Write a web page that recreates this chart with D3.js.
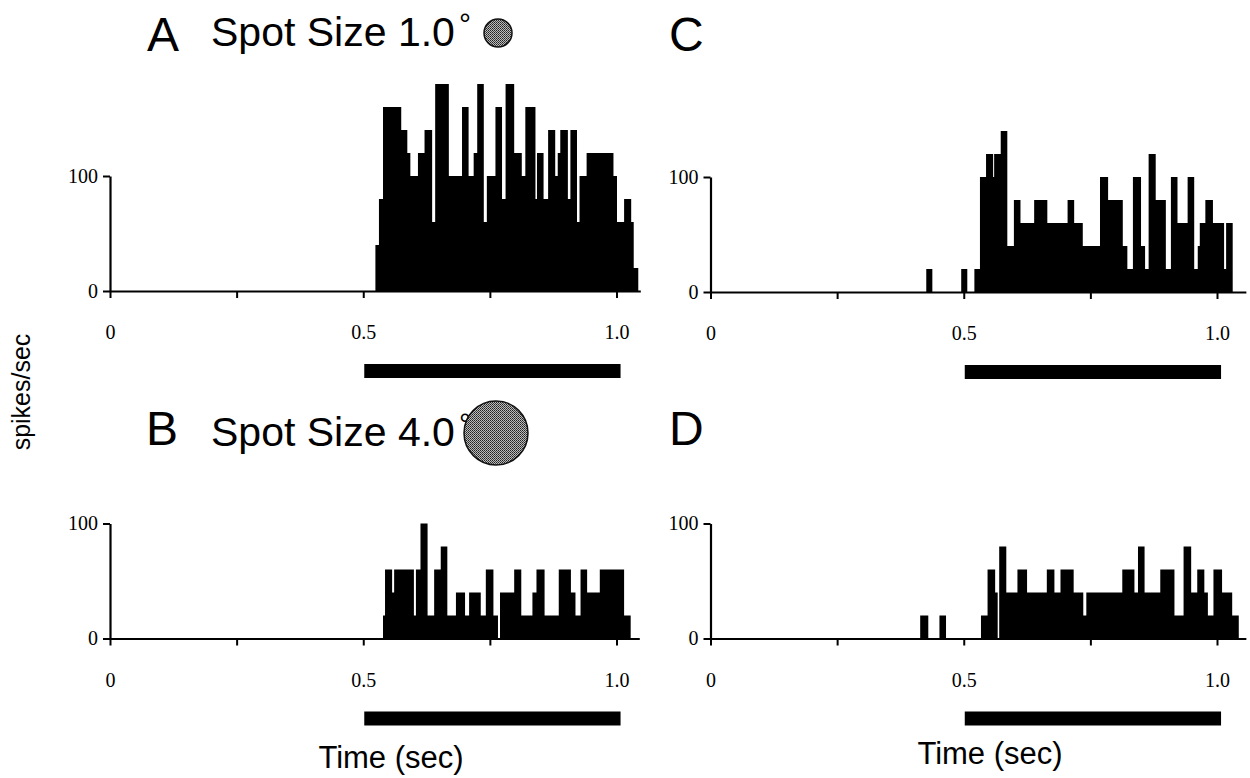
<!DOCTYPE html>
<html>
<head>
<meta charset="utf-8">
<script src="https://cdn.jsdelivr.net/npm/d3@7"></script>
<style>
	body { margin: 0; background: #fff; }
	svg { display: block; }
	.tick text { font-family: "Liberation Serif", "Times New Roman", serif; font-size: 20px; }
	.lbl { font-family: "Liberation Sans", Arial, sans-serif; fill: #000; }
</style>
</head>
<body>
<svg id="chart" width="1250" height="778"></svg>
<script>
// PSTH segments: bin edges (sec) and firing rate (spikes/sec) for each bin
const aEdges = [0.524, 0.531, 0.539, 0.575, 0.587, 0.593, 0.608, 0.621, 0.636, 0.642, 0.669, 0.695, 0.708, 0.718, 0.725, 0.738, 0.744, 0.761, 0.774, 0.781, 0.798, 0.813, 0.820, 0.840, 0.843, 0.856, 0.865, 0.879, 0.884, 0.889, 0.904, 0.909, 0.922, 0.927, 0.941, 0.994, 1.001, 1.015, 1.029, 1.034, 1.043];
const aRates = [40, 80, 160, 140, 120, 100, 120, 140, 60, 180, 100, 160, 100, 120, 180, 60, 100, 160, 80, 180, 120, 100, 160, 80, 120, 80, 140, 100, 120, 140, 80, 140, 60, 100, 120, 100, 60, 80, 60, 20];

const bEdges = [0.539, 0.543, 0.557, 0.561, 0.600, 0.604, 0.613, 0.627, 0.640, 0.653, 0.666, 0.683, 0.701, 0.709, 0.732, 0.742, 0.757, 0.766, 0.770, 0.798, 0.812, 0.834, 0.842, 0.858, 0.886, 0.910, 0.919, 0.929, 0.942, 0.967, 1.015, 1.028];
const bRates = [20, 60, 40, 60, 20, 60, 100, 20, 60, 80, 20, 40, 20, 40, 20, 60, 20, 0, 40, 60, 20, 40, 60, 20, 60, 40, 20, 60, 40, 60, 20];

const cEdges = [0.426, 0.438, 0.495, 0.507, 0.521, 0.532, 0.544, 0.558, 0.560, 0.573, 0.586, 0.599, 0.612, 0.639, 0.665, 0.705, 0.718, 0.735, 0.769, 0.785, 0.814, 0.823, 0.834, 0.850, 0.858, 0.865, 0.879, 0.899, 0.909, 0.922, 0.942, 0.955, 0.962, 0.966, 0.977, 0.992, 1.014, 1.018, 1.031];
const cRates = [20, 0, 20, 0, 20, 100, 120, 100, 120, 140, 40, 80, 60, 80, 60, 80, 60, 40, 100, 80, 40, 20, 100, 40, 20, 120, 80, 20, 100, 60, 100, 20, 40, 60, 80, 60, 20, 60];

const dEdges = [0.414, 0.430, 0.452, 0.465, 0.534, 0.547, 0.562, 0.567, 0.570, 0.584, 0.606, 0.625, 0.664, 0.679, 0.691, 0.717, 0.736, 0.742, 0.813, 0.837, 0.844, 0.857, 0.888, 0.916, 0.934, 0.949, 0.961, 0.975, 0.982, 0.993, 1.010, 1.030, 1.043];
const dRates = [20, 0, 20, 0, 20, 60, 40, 0, 80, 40, 60, 40, 60, 40, 60, 40, 20, 40, 60, 40, 80, 40, 60, 20, 80, 40, 60, 40, 20, 60, 40, 20];

// stimulus on/off (sec), axis ticks
const stimulus = [0.502, 1.008];
const xTicks = [0, 0.25, 0.5, 0.75, 1.0];
const xTickLabels = ["0", "", "0.5", "", "1.0"];
const yTicks = [0, 100];
const spotSizes = ["1.0", "4.0"];

const svg = d3.select("#chart");

let defs = svg.append("defs");
let pat = defs.append("pattern")
	.attr("id", "stipple")
	.attr("width", 2).attr("height", 2)
	.attr("patternUnits", "userSpaceOnUse");
pat.append("rect").attr("width", 2).attr("height", 2).attr("fill", "#bbb");
pat.append("rect").attr("width", 1).attr("height", 1).attr("fill", "#222");
pat.append("rect").attr("x", 1).attr("y", 1).attr("width", 1).attr("height", 1).attr("fill", "#444");

function draw_panel(p) {
	let pxPerSec = 506.5;
	let xmax = p.xmax;
	let x = d3.scaleLinear().domain([0, xmax]).range([p.left, p.left + xmax * pxPerSec]);
	let y = d3.scaleLinear().domain([0, 100]).range([p.base, p.base - 115]);

	let g = svg.append("g");

	let pts = p.edges.map((t, i) => [t, i < p.rates.length ? p.rates[i] : 0]);
	let area = d3.area()
		.x(d => x(d[0]))
		.y0(y(0))
		.y1(d => y(d[1]))
		.curve(d3.curveStepAfter);

	g.append("path")
		.datum(pts)
		.attr("d", area)
		.attr("fill", "#000");

	let xAxis = g.append("g")
		.attr("transform", "translate(0," + p.base + ")")
		.call(d3.axisBottom(x)
			.tickValues(xTicks)
			.tickSize(7)
			.tickSizeOuter(0)
			.tickPadding(27)
			.tickFormat((d, i) => xTickLabels[i]));
	xAxis.select(".domain").attr("stroke-width", 2.2);
	xAxis.selectAll(".tick line").attr("stroke-width", 2);

	let yAxis = g.append("g")
		.attr("transform", "translate(" + p.left + ",0)")
		.call(d3.axisLeft(y)
			.tickValues(yTicks)
			.tickSize(7)
			.tickSizeOuter(0)
			.tickPadding(5));
	yAxis.select(".domain").attr("stroke-width", 2.2);
	yAxis.selectAll(".tick line").attr("stroke-width", 2);

	// stimulus bar
	g.append("rect")
		.attr("x", x(stimulus[0]))
		.attr("width", x(stimulus[1]) - x(stimulus[0]))
		.attr("y", p.base + 73)
		.attr("height", 14)
		.attr("fill", "#000");

	svg.append("text")
		.attr("class", "lbl")
		.attr("x", p.letterX)
		.attr("y", p.letterY)
		.style("font-size", "48px")
		.text(p.letter);
}

draw_panel({letter: "A", letterX: 147, letterY: 51, left: 110, base: 291, xmax: 1.047, edges: aEdges, rates: aRates});
draw_panel({letter: "B", letterX: 146, letterY: 445, left: 110, base: 638.5, xmax: 1.045, edges: bEdges, rates: bRates});
draw_panel({letter: "C", letterX: 669, letterY: 51, left: 710.5, base: 292, xmax: 1.057, edges: cEdges, rates: cRates});
draw_panel({letter: "D", letterX: 669, letterY: 445, left: 710.5, base: 638.5, xmax: 1.057, edges: dEdges, rates: dRates});

// spot size captions
let spots = [
	{y: 46, cx: 498, cy: 33, r: 14},
	{y: 446, cx: 496, cy: 433, r: 32}
];
spots.forEach((s, i) => {
	let t = svg.append("text")
		.attr("class", "lbl")
		.attr("x", 211)
		.attr("y", s.y)
		.style("font-size", "41px")
		.text("Spot Size " + spotSizes[i]);
	t.append("tspan")
		.attr("dx", 4)
		.attr("dy", -12)
		.style("font-size", "30px")
		.text("\u00b0");
	svg.append("circle")
		.attr("cx", s.cx)
		.attr("cy", s.cy)
		.attr("r", s.r)
		.attr("fill", "url(#stipple)")
		.attr("stroke", "#111")
		.attr("stroke-width", 1.5);
});

svg.append("text")
	.attr("class", "lbl")
	.attr("transform", "translate(30,392) rotate(-90)")
	.attr("text-anchor", "middle")
	.style("font-size", "25px")
	.text("spikes/sec");

svg.append("text")
	.attr("class", "lbl")
	.attr("x", 391).attr("y", 768)
	.attr("text-anchor", "middle")
	.style("font-size", "31px")
	.text("Time (sec)");

svg.append("text")
	.attr("class", "lbl")
	.attr("x", 990).attr("y", 764)
	.attr("text-anchor", "middle")
	.style("font-size", "31px")
	.text("Time (sec)");
</script>
</body>
</html>
